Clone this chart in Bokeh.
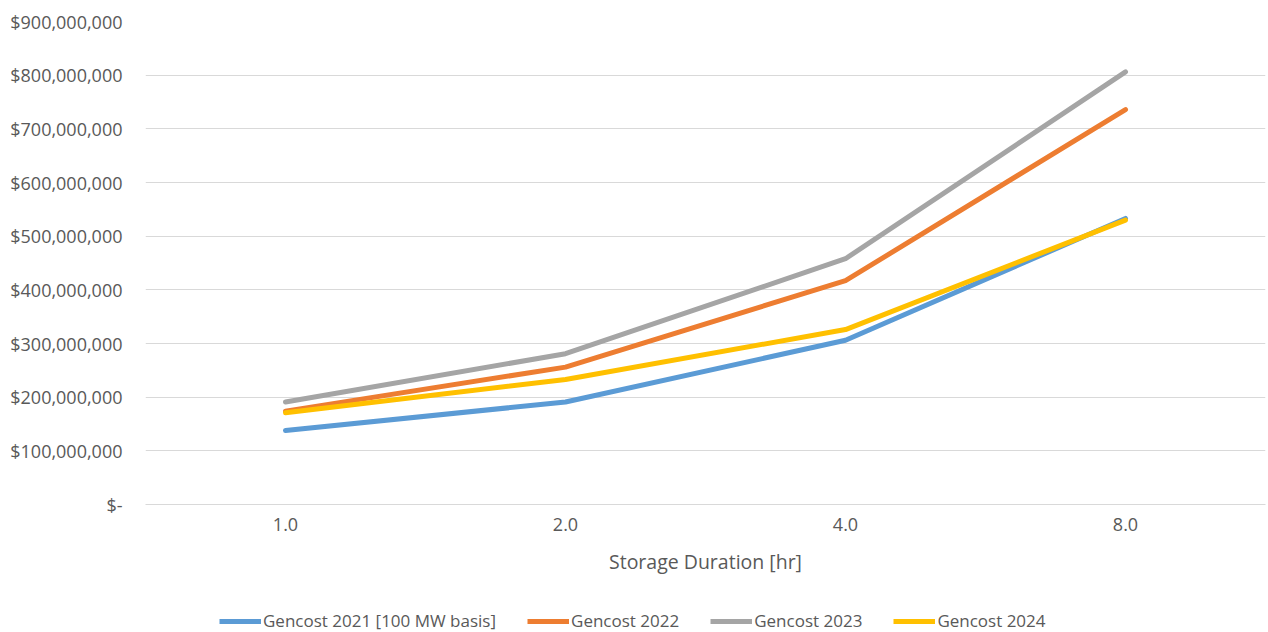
from bokeh.plotting import figure
from bokeh.layouts import column
from bokeh.models import Range1d, FactorRange, Legend, LegendItem, FixedTicker
from bokeh.embed import file_html
from bokeh.resources import INLINE

# Storage duration categories (hours) and capital cost per series (USD)
durations = ["1.0", "2.0", "4.0", "8.0"]
gencost_2021 = [138_000_000, 191_000_000, 306_000_000, 533_000_000]
gencost_2022 = [174_000_000, 256_000_000, 417_000_000, 736_000_000]
gencost_2023 = [191_000_000, 281_000_000, 458_000_000, 806_000_000]
gencost_2024 = [171_000_000, 233_000_000, 326_000_000, 530_000_000]

series_names = ["Gencost 2021 [100 MW basis]", "Gencost 2022", "Gencost 2023", "Gencost 2024"]
series_colors = ["#5B9BD5", "#ED7D31", "#A5A5A5", "#FFC000"]
series_values = [gencost_2021, gencost_2022, gencost_2023, gencost_2024]

y_ticks = [0, 100_000_000, 200_000_000, 300_000_000, 400_000_000,
           500_000_000, 600_000_000, 700_000_000, 800_000_000, 900_000_000]
y_tick_labels = ["$-", "$100,000,000", "$200,000,000", "$300,000,000", "$400,000,000",
                 "$500,000,000", "$600,000,000", "$700,000,000", "$800,000,000", "$900,000,000"]

FONT = "Open Sans"
TEXT_COLOR = "#595959"
GRID_COLOR = "#D9D9D9"
LINE_W = 5

p = figure(
    width=1268, height=600,
    x_range=FactorRange(*durations, range_padding=0),
    y_range=Range1d(0, 900_000_000),
    output_backend="svg", toolbar_location=None,
    min_border_left=145, min_border_right=3, min_border_top=21, min_border_bottom=96,
)
p.x_range.factor_padding = 0
p.outline_line_color = None
p.background_fill_color = "white"
p.border_fill_color = "white"

for vals, color in zip(series_values, series_colors):
    p.line(durations, vals, line_color=color, line_width=LINE_W,
           line_join="round", line_cap="round")

# grid
p.xgrid.grid_line_color = None
p.ygrid.grid_line_color = GRID_COLOR
p.ygrid.grid_line_width = 1

# y axis
p.yaxis.ticker = FixedTicker(ticks=y_ticks)
p.yaxis.major_label_overrides = {t: lab for t, lab in zip(y_ticks, y_tick_labels)}
p.yaxis.axis_line_color = None
p.yaxis.major_tick_line_color = None
p.yaxis.minor_tick_line_color = None
p.yaxis.major_label_standoff = 17
p.yaxis.major_label_text_font = FONT
p.yaxis.major_label_text_font_size = "18px"
p.yaxis.major_label_text_color = TEXT_COLOR

# x axis
p.xaxis.axis_line_color = GRID_COLOR
p.xaxis.major_tick_line_color = None
p.xaxis.minor_tick_line_color = None
p.xaxis.major_label_standoff = 7
p.xaxis.major_label_text_font = FONT
p.xaxis.major_label_text_font_size = "18px"
p.xaxis.major_label_text_color = TEXT_COLOR
p.xaxis.axis_label = "Storage Duration [hr]"
p.xaxis.axis_label_standoff = 14
p.xaxis.axis_label_text_font = FONT
p.xaxis.axis_label_text_font_size = "19.5px"
p.xaxis.axis_label_text_font_style = "normal"
p.xaxis.axis_label_text_color = TEXT_COLOR

# legend strip underneath the chart; its lines share the series data but
# fall outside the strip's y-range, so only the legend entries show
leg = figure(
    width=1268, height=32,
    x_range=FactorRange(*durations, range_padding=0),
    y_range=Range1d(-2_000_000_000, -1_000_000_000),
    output_backend="svg", toolbar_location=None,
    x_axis_location=None, y_axis_location=None,
    min_border=0,
)
leg.outline_line_color = None
leg.grid.visible = False
leg_renderers = [
    leg.line(durations, vals, line_color=color, line_width=LINE_W)
    for vals, color in zip(series_values, series_colors)
]
legend = Legend(
    items=[LegendItem(label=n, renderers=[r]) for n, r in zip(series_names, leg_renderers)],
    orientation="horizontal", location=(74, 0),
    glyph_width=42, glyph_height=20, label_standoff=2, spacing=31,
    padding=0, margin=0,
    border_line_color=None, background_fill_alpha=0,
    label_text_font=FONT, label_text_font_size="17px", label_text_color=TEXT_COLOR,
)
leg.add_layout(legend, "center")

layout = column(p, leg, spacing=0)
open("out.html", "w").write(file_html(layout, INLINE))
